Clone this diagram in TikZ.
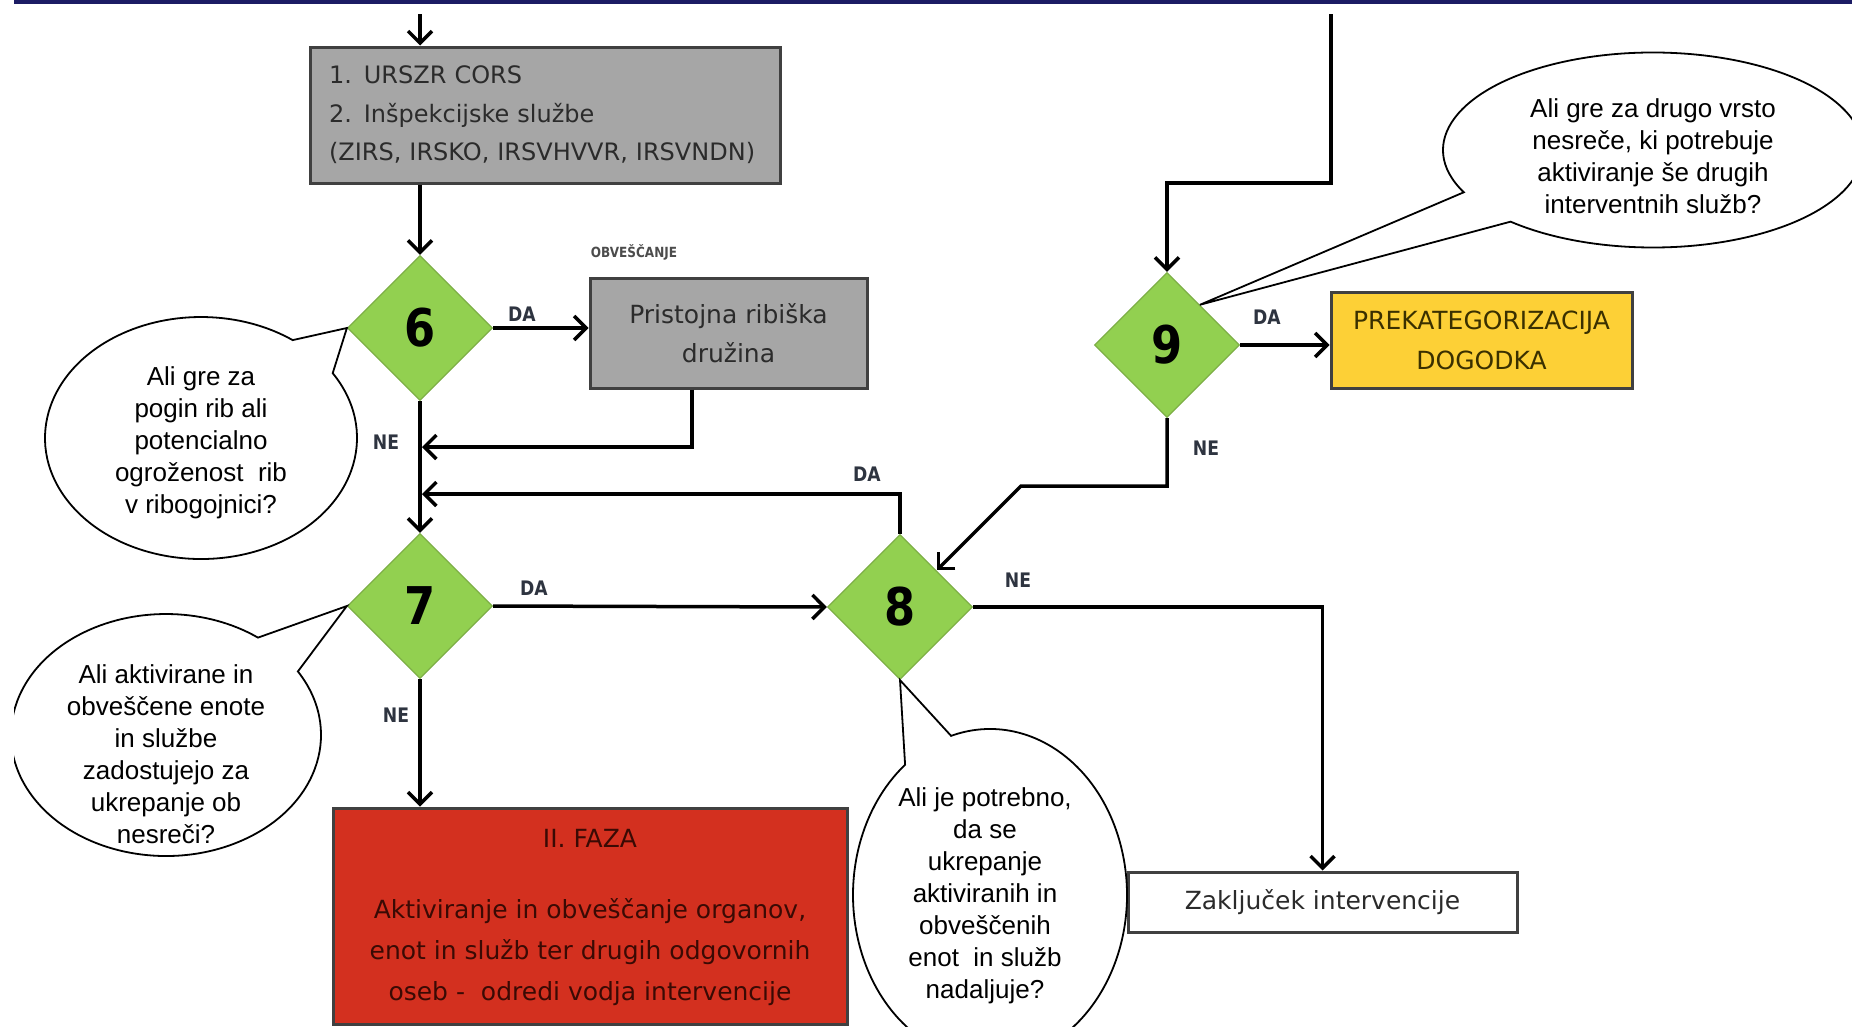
\documentclass[tikz,border=0pt]{standalone}
\usepackage{fontspec}
\usetikzlibrary{shapes.geometric,arrows.meta,calc}
\newfontfamily\boxf{DejaVu Sans}
\newfontfamily\numf[FakeStretch=0.86]{DejaVu Sans}
\newfontfamily\callf{Liberation Sans}
\definecolor{dgreen}{HTML}{92D050}
\definecolor{dgreenb}{HTML}{7DAF46}
\definecolor{gfill}{HTML}{A6A6A6}
\definecolor{gborder}{HTML}{404040}
\definecolor{fazared}{HTML}{D3301F}
\definecolor{fazatxt}{HTML}{3A0A04}
\definecolor{prekfill}{HTML}{FDD036}
\definecolor{prektxt}{HTML}{3A3000}
\definecolor{navybar}{HTML}{1C1C64}
\definecolor{lbl}{HTML}{2E3440}
\definecolor{boxtxt}{HTML}{2B2B2B}
\tikzset{
  dec/.style={diamond, shape aspect=1, minimum width=145pt, minimum height=145pt, inner sep=0pt,
    fill=dgreen, draw=dgreenb, line width=1.2pt, font=\numf\bfseries\fontsize{52}{52}\selectfont},
  graybox/.style={rectangle, fill=gfill, draw=gborder, line width=3pt, inner sep=0pt,
    font=\boxf\fontsize{25}{38.5}\selectfont, text=boxtxt},
  zakbox/.style={rectangle, fill=white, draw=gborder, line width=3pt, inner sep=0pt,
    minimum width=389pt, minimum height=60pt, font=\boxf\fontsize{25}{30}\selectfont, text=boxtxt},
  prekbox/.style={rectangle, fill=prekfill, draw=gborder, line width=3pt, inner sep=0pt, align=center,
    minimum width=301pt, minimum height=96pt, font=\boxf\fontsize{25}{40}\selectfont, text=prektxt},
  fazabox/.style={rectangle, fill=fazared, draw=gborder, line width=3pt, inner sep=0pt,
    minimum width=514pt, minimum height=216pt},
  fazat/.style={inner sep=0pt, align=center, font=\boxf\fontsize{25}{41}\selectfont, text=fazatxt},
  arr/.style={line width=3.5pt, -{Straight Barb[length=12pt,width=24pt]}},
  lab/.style={font=\numf\bfseries\fontsize{20}{20}\selectfont, text=lbl, inner sep=0pt},
  smalllab/.style={font=\numf\bfseries\fontsize{14}{14}\selectfont, text=black!70, inner sep=0pt},
  callout/.style={draw=black, fill=white, line width=1.8pt, line join=miter},
  ctext/.style={font=\callf\fontsize{26}{32}\selectfont, align=center, inner sep=0pt},
}
\begin{document}
\begin{tikzpicture}[x=1pt,y=-1pt]
\useasboundingbox (0,0) rectangle (1852,1026);
\clip (0,0) rectangle (1852,1026);
\fill[white] (0,0) rectangle (1852,1026);
\fill[navybar] (14,0) rectangle (1852,3.5);

% left column
\coordinate (in1) at (420,14);
\node[graybox, minimum width=470pt, minimum height=136pt, text width=432pt, align=left,
  font=\boxf\fontsize{24}{38.5}\selectfont] (b1) at (545,115)
  {1. URSZR CORS\\2. Inšpekcijske službe\\(ZIRS, IRSKO, IRSVHVVR, IRSVNDN)};
\draw[arr] (in1) -- (in1 |- b1.north);

\node[dec] (d6) at (420,328) {6};
\draw[arr] (b1.south -| d6.north) -- (d6.north);

\node[graybox, minimum width=277pt, minimum height=110pt, align=center] (p) at (728.5,333)
  {Pristojna ribiška\\družina};
\draw[arr] (d6.east) -- (d6.east -| p.west);
\node[lab] (da1) at (522,314) {DA};
\node[smalllab] (obv) at (634,252) {OBVEŠČANJE};

\node[dec] (d7) at (420,606) {7};
\draw[arr] (d6.south) -- (d7.north);
\coordinate (pdown) at ($(p.south west)!0.37!(p.south east)$);
\coordinate (j1) at (422,447);
\draw[arr] (pdown) |- (j1);
\node[lab] (ne1) at (386,442) {NE};

\node[dec] (d8) at (900,607) {8};
\coordinate (j2) at (422,494);
\draw[arr] (d8.north) |- (j2);
\node[lab] (da2) at (867,474) {DA};
\draw[arr] (d7.east) -- (d8.west);
\node[lab] (da3) at (534,588) {DA};

\node[zakbox] (zak) at (1322.5,902) {Zaključek intervencije};
\draw[arr] (d8.east) -| (zak.north);
\node[lab] (ne2) at (1018,580) {NE};

\node[fazabox] (faza) at (590,916) {};
\draw[arr] (d7.south) -- (d7.south |- faza.north);
\node[lab] (ne3) at (396,715) {NE};
\node[fazat] (fazah) at (590,838) {II. FAZA};
\node[fazat] (fazab) at (590,952) {Aktiviranje in obveščanje organov,\\enot in služb ter drugih odgovornih\\oseb -\ \ odredi vodja intervencije};

% right column
\coordinate (in2) at (1331,14);
\coordinate (k1) at (1331,183);
\node[dec] (d9) at (1167,345) {9};
\draw[arr] (in2) -- (k1) -| (d9.north);
\node[prekbox] (prek) at (1481.5,340) {PREKATEGORIZACIJA\\DOGODKA};
\draw[arr] (d9.east) -- (d9.east -| prek.west);
\node[lab] (da4) at (1267,317) {DA};
\coordinate (k2) at (1021,486);
\draw[arr] (d9.south) |- (k2) -- ($(d8.north)!0.5!(d8.east)$);
\node[lab] (ne4) at (1206,448) {NE};

% callouts
\coordinate (cA) at (201,438);
\draw[callout] (d6.west) -- ($(cA)+(-32.4:156 and 121)$)
  arc[start angle=-32.4, end angle=306, x radius=156, y radius=121] -- cycle;
\node[ctext] (tA) at (201,443) {Ali gre za\\pogin rib ali\\potencialno\\ogroženost\ \ rib\\v ribogojnici?};

\begin{scope}
\clip (14,0) rectangle (1852,1026);
\coordinate (cB) at (166,735);
\draw[callout] (d7.west) -- ($(cB)+(-31.7:155 and 121)$)
  arc[start angle=-31.7, end angle=306.4, x radius=155, y radius=121] -- cycle;
\end{scope}
\node[ctext] (tB) at (166,754) {Ali aktivirane in\\obveščene enote\\in službe\\zadostujejo za\\ukrepanje ob\\nesreči?};

\coordinate (cC) at (990,895);
\draw[callout] (d8.south) -- ($(cC)+(253.5:137 and 166)$)
  arc[start angle=253.5, end angle=591.7, x radius=137, y radius=166] -- cycle;
\node[ctext] (tC) at (985,896) {Ali je potrebno,\\da se\\ukrepanje\\aktiviranih in\\obveščenih\\enot\ \ in služb\\nadaljuje?};

\coordinate (cD) at (1653,150);
\draw[callout] ($(d9.north)!0.45!(d9.east)$) -- ($(cD)+(154.3:210 and 97.5)$)
  arc[start angle=154.3, end angle=492.7, x radius=210, y radius=97.5] -- cycle;
\node[ctext] (tD) at (1653,156) {Ali gre za drugo vrsto\\nesreče, ki potrebuje\\aktiviranje še drugih\\interventnih služb?};
\end{tikzpicture}
\end{document}
